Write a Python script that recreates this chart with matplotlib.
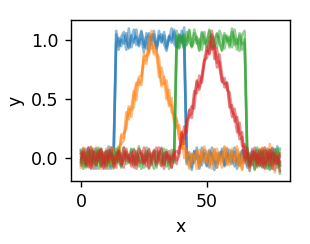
import numpy as np
import matplotlib
matplotlib.use("Agg")
import matplotlib.pyplot as plt

# x positions, 80 samples
x = np.arange(80)

# clean shapes for the four signals
ramp = [0, .07, .14, .21, .29, .36, .43, .5, .57, .64, .71, .79, .86, .93, 1.0,
        .93, .86, .79, .71, .64, .57, .5, .43, .36, .29, .21, .14, .07, 0]
blue_base = [0]*14 + [1]*28 + [0]*38
orange_base = [0]*14 + ramp + [0]*37
green_base = [0]*38 + [1]*28 + [0]*14
red_base = [0]*38 + ramp + [0]*13

xticks = [0, 50]
yticks = [0.0, 0.5, 1.0]

# noise, in hundredths (3 copies per signal)
noise = [
    [3,-5,8,-2,6,-9,1,4,-7,2, -3,10,-4,0,5,-8,3,7,-1,-6, 4,-2,9,-5,1,-10,6,3,-4,8, -7,2,5,-3,-9,4,0,7,-6,3,
     -2,11,-5,1,-8,6,2,-4,9,-1, -7,5,3,-10,4,-2,8,-6,0,7, -3,5,-9,2,6,-4,1,-11,8,-2, 4,-6,3,9,-5,0,-3,7,-8,2],
    [-4,6,-1,9,-6,2,-3,7,0,-8, 5,-2,-9,4,8,-5,1,-3,6,-7, 2,9,-4,-1,7,-6,3,-10,5,0, -5,8,-2,4,-7,1,10,-3,-6,5,
     2,-8,6,-1,3,-4,9,-9,0,4, -6,7,1,-3,-8,5,2,-5,8,-2, 6,-7,0,3,-4,10,-6,2,-1,-9, 7,-3,5,-2,-6,4,8,-10,1,-4],
    [7,0,-6,3,-2,8,-9,5,1,-4, -1,6,-7,9,-3,2,-5,4,-8,10, -6,1,3,-4,8,-2,-7,6,0,5, -9,4,-1,7,-5,3,-2,9,-4,-6,
     8,0,-3,5,-10,6,-1,2,-6,7, 3,-8,9,-2,-4,1,6,-7,4,-3, -5,9,-2,-6,7,3,-8,4,-1,5, -4,2,-7,6,1,-9,5,-3,10,-6],
    [-2,9,-5,-8,4,0,6,-3,7,-6, 3,-1,-6,8,2,-9,5,-4,1,6, -8,4,7,-2,-5,10,-3,1,-7,3, 6,-4,-10,5,1,-6,8,-2,3,-5,
     9,-7,2,4,-3,-1,7,-8,5,0, -4,6,-9,3,8,-5,-2,10,-6,1, 4,-3,7,-7,0,5,-4,-10,6,2, -1,8,-5,3,-8,12,-6,4,-2,-7],
    [5,-7,2,6,-3,-8,9,-1,4,-5, 8,-4,1,-9,6,3,-2,-6,10,-3, 0,7,-8,5,-1,4,-6,9,-3,-5, 2,-10,6,3,-7,8,-4,1,5,-2,
     -6,9,-3,-7,4,0,-9,7,2,-4, 6,-1,-5,8,-3,2,-8,5,9,-6, 1,-4,10,-2,-9,6,3,-5,0,7, -8,3,-2,9,-6,4,-1,-12,5,1],
    [-8,3,6,-4,10,-2,-5,7,-9,1, 4,-6,9,2,-3,-8,6,0,-4,8, -2,-7,5,3,-9,7,1,-5,8,-3, 4,6,-8,-1,9,-4,2,-6,-3,7,
     -5,1,8,-9,3,-2,6,-7,4,10, -3,-6,2,7,-8,4,-1,9,-5,0, 8,-2,-6,5,-10,3,7,-4,1,-7, 5,-1,9,-6,2,-3,-9,6,4,-5],
    [1,-9,4,7,-3,5,-6,0,8,-2, -7,3,6,-5,-1,9,-8,2,4,-4, 7,-3,-6,10,1,-8,3,5,-2,-9, 6,0,-4,8,-7,2,-1,5,-10,4,
     3,-6,7,-2,-5,9,1,-8,6,-3, 0,8,-4,-7,5,2,-9,6,-1,3, -6,9,-3,4,-8,1,7,-5,2,-2, 9,-7,3,-4,6,-10,2,8,-3,-6],
    [-3,4,-8,1,7,-5,2,9,-6,0, 6,-9,3,-2,8,-4,-7,5,1,-1, -5,8,2,-7,4,-3,9,-8,0,6, -2,5,-6,3,7,-9,1,-4,8,-1,
     4,-7,-2,9,-5,6,-3,1,-8,7, -9,2,5,-1,-6,8,3,-7,4,-4, 7,1,-8,6,-3,-2,9,-6,5,-10, 2,6,-4,-8,3,7,-5,1,-3,8],
    [6,-2,-7,5,0,-4,8,-9,3,4, -6,2,7,-8,5,-3,1,9,-5,-2, 8,-6,4,1,-9,3,-2,7,-4,5, -8,1,9,-5,2,-6,7,-3,4,-7,
     0,5,-4,8,-6,-1,3,-9,7,2, -5,9,-7,1,6,-3,-8,4,2,-6, 10,-4,1,-9,5,8,-2,-6,3,0, -7,4,6,-3,-9,2,5,-1,8,-13],
    [-6,8,1,-3,-9,6,4,-2,7,-5, 2,-1,9,-7,-4,5,3,-8,6,0, -3,7,-9,2,6,-5,-1,8,-6,4, 9,-3,-7,4,0,6,-8,3,-2,-5,
     7,-4,1,5,-9,2,8,-6,-3,4, -1,6,-8,3,-5,9,0,-4,7,-7, 2,-5,6,-1,8,-9,4,-3,-6,9, -4,1,-8,7,3,-6,9,-2,-5,4],
    [4,1,-5,9,-8,3,-2,6,-7,5, -9,7,0,-4,3,6,-6,-1,8,-3, 5,-8,6,-2,-4,9,-7,2,4,-1, -6,3,8,-9,5,-3,1,7,-5,2,
     -2,6,-7,4,1,-8,9,-4,-1,5, 8,-5,3,-9,7,-2,-6,4,1,6, -3,0,-7,9,-4,5,2,-8,6,-1, 3,-6,8,-5,-2,7,-9,4,0,-3],
    [-1,5,-4,-7,9,2,-6,3,8,-9, 6,-3,4,1,-8,7,-5,9,-2,3, -7,2,-5,8,3,-4,6,-9,1,7, -4,9,-2,-6,5,1,-8,4,6,-3,
     8,-9,3,-1,-5,7,-2,6,-7,1, 5,-4,8,2,-9,3,-6,-1,7,-2, -8,6,1,-5,4,-7,9,-3,2,5, -6,7,-3,-9,8,0,4,-5,1,-11],
]

bases = [blue_base, orange_base, green_base, red_base]
colors = ["C0", "C1", "C2", "C3"]

plt.rcParams['font.size'] = 10
fig = plt.figure(figsize=(310/125, 244/125), dpi=125)
ax = fig.add_axes([0.229, 0.259, 0.706, 0.659])

k = 0
for base, c in zip(bases, colors):
    for i in range(3):
        y = np.array(base) + np.array(noise[k]) / 100
        ax.plot(x, y, color=c, alpha=0.5)
        k += 1

ax.set_xticks(xticks)
ax.set_yticks(yticks)
ax.set_xlabel("x")
ax.set_ylabel("y")
fig.savefig("out.png", dpi=125)
